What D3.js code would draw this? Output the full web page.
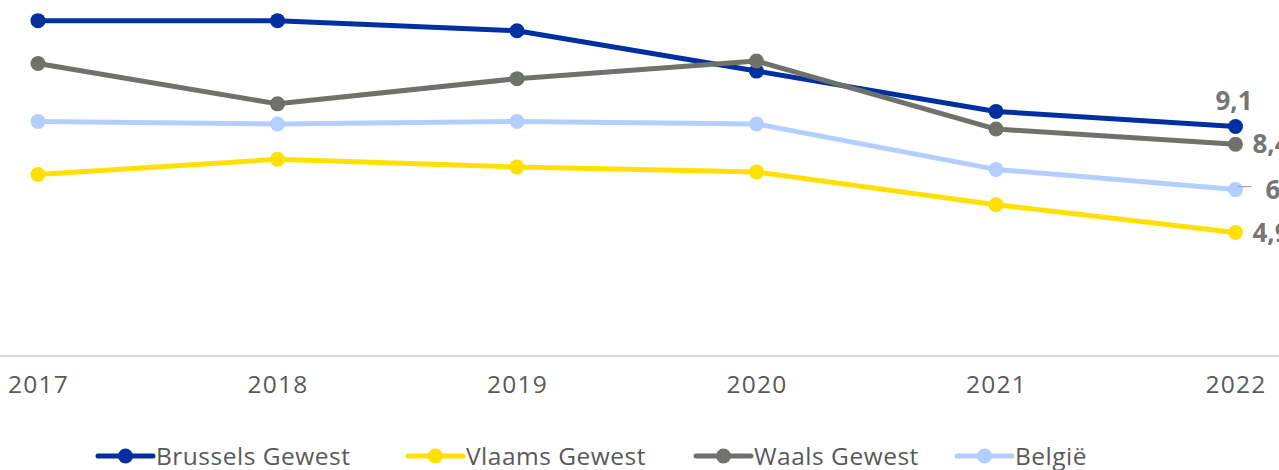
<!DOCTYPE html>
<html>
<head>
<meta charset="utf-8">
<script src="https://cdn.jsdelivr.net/npm/d3@7"></script>
<style>
  body { margin: 0; background: #fff; overflow: hidden; }
  svg { display: block; font-family: "Open Sans", sans-serif; }
</style>
</head>
<body>
<svg id="chart"></svg>
<script>
const years = ["2017", "2018", "2019", "2020", "2021", "2022"];
const brussels = [13.3, 13.3, 12.9, 11.3, 9.7, 9.1];
const vlaams = [7.2, 7.8, 7.5, 7.3, 6.0, 4.9];
const waals = [11.6, 10.0, 11.0, 11.7, 9.0, 8.4];
const belgie = [9.3, 9.2, 9.3, 9.2, 7.4, 6.6];
const seriesNames = ["Brussels Gewest", "Vlaams Gewest", "Waals Gewest", "België"];

const width = 1279, height = 470;
const colors = ["#0030a0", "#ffe000", "#6f716c", "#b3cfff"];
const values = [brussels, vlaams, waals, belgie];

const svg = d3.select("#chart").attr("width", width).attr("height", height);

// scales
let xScale = d3.scalePoint().domain(years).range([38, 1235.5]);
let yScale = d3.scaleLinear().domain([0, 14]).range([356, 3]);

// axis baseline
svg.append("line")
  .attr("x1", 0).attr("x2", width)
  .attr("y1", yScale(0)).attr("y2", yScale(0))
  .attr("stroke", "#d9d9d9").attr("stroke-width", 2);

let xAxis = d3.axisBottom(xScale).tickSize(0).tickPadding(0);
let gx = svg.append("g")
  .attr("transform", `translate(0, ${yScale(0)})`)
  .call(xAxis);
gx.select(".domain").remove();
gx.selectAll("text")
  .attr("dy", "1.5em")
  .attr("font-size", 24.5)
  .attr("letter-spacing", 1.2)
  .attr("font-family", "Open Sans, sans-serif")
  .attr("fill", "#595959");

let line = d3.line().x((d, i) => xScale(years[i])).y(d => yScale(d));

// draw in order so that grey sits above blue where they cross
const drawOrder = [3, 1, 0, 2];
drawOrder.forEach(s => {
  let g = svg.append("g");
  g.append("path")
    .datum(values[s])
    .attr("d", line)
    .attr("fill", "none")
    .attr("stroke", colors[s])
    .attr("stroke-width", 5)
    .attr("stroke-linejoin", "round");
  g.selectAll("circle").data(values[s]).enter().append("circle")
    .attr("cx", (d, i) => xScale(years[i]))
    .attr("cy", d => yScale(d))
    .attr("r", 7.5)
    .attr("fill", colors[s]);
});

// end labels (cut off at the right edge, like the original)
const fmt = v => d3.format(".1f")(v).replace(".", ",");
const last = years[years.length - 1];
const labelOffsets = [[-20, -26], [17, 0], [17, 0], [30, 0]];
values.forEach((vals, s) => {
  let v = vals[vals.length - 1];
  let x = xScale(last), y = yScale(v);
  if (s === 3) {
    svg.append("line")
      .attr("x1", x + 2).attr("x2", x + 16)
      .attr("y1", y - 3).attr("y2", y - 3)
      .attr("stroke", "#a6a6a6").attr("stroke-width", 1.2);
  }
  svg.append("text")
    .attr("x", x + labelOffsets[s][0])
    .attr("y", y + labelOffsets[s][1])
    .attr("dy", "0.35em")
    .attr("font-size", 26)
    .attr("font-weight", "bold")
    .attr("fill", "#767676")
    .text(fmt(v));
});

// legend
const legendX = [98, 408, 696, 957];
const legendY = 456;
seriesNames.forEach((name, s) => {
  let g = svg.append("g").attr("transform", `translate(${legendX[s]}, ${legendY})`);
  g.append("line").attr("x1", 0).attr("x2", 55).attr("y1", 0).attr("y2", 0)
    .attr("stroke", colors[s]).attr("stroke-width", 5).attr("stroke-linecap", "round");
  g.append("circle").attr("cx", 27.5).attr("cy", 0).attr("r", 7.5).attr("fill", colors[s]);
  g.append("text").attr("x", 58).attr("y", 0).attr("dy", "0.36em")
    .attr("font-size", 24.5).attr("letter-spacing", 0.5)
    .attr("fill", "#595959").text(name);
});
</script>
</body>
</html>
